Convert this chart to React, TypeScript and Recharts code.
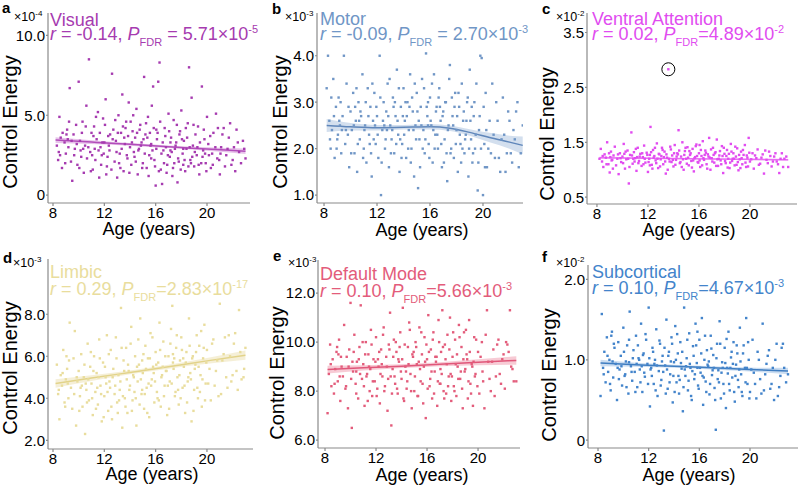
import React from 'react';
import { ComposedChart, Scatter, Line, Area, XAxis, YAxis, ReferenceDot } from 'recharts';

// age ticks shared by all panels
const ageTicks = [8, 12, 16, 20];

// a - Visual (x10^-4)
const visualPoints = [
  [8.3,3.1],[8.4,2.2],[8.5,4.9],[8.6,3.6],[8.7,1.7],[8.9,3.3],[9.0,2.6],[9.1,4.1],[9.2,3.0],[9.3,6.7],[9.4,2.1],[9.5,0.9],[9.6,3.8],[9.7,2.9],[9.8,4.4],[9.9,1.9],[10.0,7.1],[10.1,3.4],[10.2,2.4],[10.3,4.6],[10.4,1.4],[10.5,3.1],[10.6,5.6],[10.8,8.5],[10.9,2.7],[11.0,3.9],[11.1,1.6],[11.2,4.3],[11.3,2.2],[11.4,3.5],[11.5,5.2],[11.6,1.1],[11.7,3.0],[11.8,2.5],[11.9,4.8],[12.0,3.3],[12.1,6.0],[12.2,1.8],[12.3,3.7],[12.4,2.8],[12.6,7.6],[12.7,4.1],[12.8,2.1],[12.9,3.4],[13.0,1.1],[13.1,5.0],[13.2,2.6],[13.3,3.9],[13.4,6.3],[13.5,1.5],[13.6,3.2],[13.7,4.6],[13.8,2.3],[13.9,5.8],[14.0,3.0],[14.1,1.9],[14.2,4.0],[14.3,2.7],[14.4,3.6],[14.5,5.4],[14.6,1.3],[14.7,2.9],[14.8,4.4],[14.9,3.3],[15.0,2.0],[15.1,7.4],[15.2,3.8],[15.3,1.7],[15.4,4.9],[15.5,2.5],[15.6,3.1],[15.7,5.6],[15.8,6.8],[15.9,2.2],[16.0,0.6],[16.1,3.5],[16.2,7.1],[16.3,8.3],[16.4,1.6],[16.5,0.7],[16.6,2.8],[16.7,4.2],[16.8,3.0],[16.9,1.9],[17.0,5.1],[17.1,2.4],[17.2,3.6],[17.3,1.2],[17.4,4.7],[17.5,2.9],[17.6,3.3],[17.7,0.8],[17.8,2.1],[17.9,4.0],[18.0,5.3],[18.1,2.6],[18.2,3.4],[18.3,1.5],[18.4,2.9],[18.5,4.5],[18.6,8.0],[18.7,2.2],[18.8,6.1],[18.9,3.1],[19.0,1.8],[19.1,3.8],[19.2,2.5],[19.3,4.3],[19.4,1.3],[19.6,6.8],[19.7,2.8],[19.8,3.5],[19.9,2.0],[20.0,4.9],[20.1,3.2],[20.3,1.7],[20.4,2.6],[20.5,3.9],[20.7,5.1],[20.8,2.3],[21.0,1.3],[21.1,3.0],[21.3,4.2],[21.5,2.5],[21.7,3.6],[21.9,1.9],[22.1,3.0],[22.3,4.1],[22.5,2.7],[22.8,3.4],[23.0,2.3],
  [11.25,2.9],[12.45,3.8],[13.15,2.0],[13.65,4.2],[14.35,2.4],[14.85,3.1],[15.35,3.6],[15.65,2.3],[16.15,3.9],[16.45,2.6],[16.85,1.4],[17.15,3.3],[17.45,2.0],[17.85,3.8],[18.15,1.9],[18.45,3.6],[18.85,2.4],[19.25,3.0],[19.55,2.0],[10.65,2.3],[9.45,3.4],[12.15,1.3],[14.05,4.6],[15.95,1.8],[17.65,4.4],
  [8.45,2.7],[8.75,3.9],[8.95,2.0],[9.15,3.5],[9.25,4.6],[9.65,2.5],[9.85,3.2],[10.05,1.7],[10.25,3.9],[10.35,2.9],[10.55,4.3],[10.75,3.0],[10.95,1.5],[11.05,2.5],[11.15,3.7],[11.35,4.9],[11.55,2.8],[11.65,3.9],[11.75,1.9],[11.95,2.6],[12.05,4.4],[12.25,2.4],[12.35,3.1],[12.55,1.6],[12.65,3.5],[12.85,4.7],[12.95,2.7],[13.05,3.9],[13.25,1.7],[13.35,2.9],[13.45,4.3],[13.55,3.6],[13.75,2.5],[13.95,1.4],[14.15,3.3],[14.25,5.0],[14.45,2.1],[14.55,3.9],[14.65,2.8],[14.75,4.1],[14.95,1.7],[15.05,3.5],[15.15,2.6],[15.25,4.5],[15.45,1.2],[15.55,3.9],[15.75,2.8],[15.85,4.2],[16.05,2.9],[16.25,1.5],[16.35,4.6],[16.55,3.3],[16.65,2.0],[16.75,3.7],[16.95,2.5],[17.05,4.0],[17.25,2.7],[17.35,1.7],[17.55,3.1],[17.75,2.3],[17.95,1.6],[18.05,3.5],[18.25,2.2],[18.35,4.2],[18.55,1.8],[18.65,3.0],[18.75,2.0],[18.95,4.4],[19.05,2.7],[19.35,1.9],[19.45,3.3],[19.65,2.4],[19.75,4.1],[19.95,1.5],[20.15,2.5],[20.25,3.7],[20.45,1.9],[20.65,3.0],[20.95,2.2],[21.2,3.8],[21.4,1.8],[21.6,2.9],[21.8,4.5],[22.0,2.2],[22.2,1.5],[22.4,3.3],[22.65,2.0],[22.9,2.9],[21.05,2.6],[20.85,4.2],[9.05,3.8],[8.55,2.5],[10.15,2.8],[11.85,3.3],[13.85,3.7],[15.65,3.2],[16.05,4.1],[17.15,2.8],[18.15,2.9],[19.85,2.6],
];
// [age, fit, lower, upper]
const visualFit = [[8.2,3.45,3.27,3.63],[11,3.32,3.2,3.44],[14,3.18,3.1,3.26],[17,3.03,2.95,3.11],[20,2.89,2.78,3.0],[23,2.75,2.58,2.92]];

// b - Motor (x10^-3)
const motorPoints = [
  [8.2,3.3],[8.3,4.0],[8.4,2.6],[8.5,2.0],[8.6,2.4],[8.7,3.5],[8.8,1.8],[8.9,2.9],[9.0,2.2],[9.1,3.1],[9.2,2.5],[9.3,1.9],[9.4,2.7],[9.5,4.0],[9.6,2.1],[9.7,3.4],[9.8,2.3],[9.9,1.6],[10.0,2.8],[10.1,2.4],[10.2,3.2],[10.3,1.9],[10.4,2.6],[10.5,1.5],[10.6,3.0],[10.7,2.2],[10.8,2.7],[10.9,3.6],[11.0,2.0],[11.1,2.5],[11.2,1.7],[11.3,3.3],[11.4,2.3],[11.5,2.9],[11.6,1.4],[11.7,2.6],[11.8,3.2],[11.9,2.1],[12.0,2.7],[12.1,1.8],[12.2,4.0],[12.3,1.0],[12.4,2.4],[12.5,3.0],[12.6,2.0],[12.7,2.8],[12.8,3.4],[12.9,1.6],[13.0,2.5],[13.1,2.2],[13.2,3.1],[13.3,1.9],[13.4,2.7],[13.5,3.7],[13.6,2.3],[13.7,1.5],[13.8,2.9],[13.9,2.1],[14.0,3.3],[14.1,2.6],[14.2,1.8],[14.3,3.0],[14.4,2.4],[14.5,3.6],[14.6,2.0],[14.7,2.8],[14.8,1.4],[14.9,2.5],[15.0,3.2],[15.1,1.15],[15.2,2.2],[15.3,2.9],[15.4,3.5],[15.5,2.4],[15.6,1.9],[15.7,4.05],[15.8,2.7],[15.9,2.1],[16.0,3.1],[16.1,2.5],[16.2,1.7],[16.3,3.6],[16.4,2.3],[16.5,2.9],[16.6,2.0],[16.7,3.3],[16.8,2.6],[16.9,1.6],[17.0,2.8],[17.1,2.2],[17.2,3.0],[17.3,1.3],[17.4,2.5],[17.5,3.8],[17.6,2.0],[17.7,2.7],[17.8,1.8],[17.9,3.2],[18.0,2.4],[18.1,1.5],[18.2,2.9],[18.3,2.1],[18.4,3.4],[18.5,2.6],[18.6,1.9],[18.7,2.3],[18.8,3.0],[18.9,1.4],[19.0,3.7],[19.1,2.2],[19.2,1.7],[19.3,2.7],[19.4,2.0],[19.5,3.4],[19.6,1.1],[19.7,2.4],[19.8,4.0],[19.9,3.95],[20.0,1.0],[20.1,2.1],[20.2,3.2],[20.3,1.6],[20.5,2.6],[20.6,1.9],[20.8,2.3],[21.0,3.0],[21.2,1.8],[21.4,2.2],[21.5,3.1],[21.7,1.5],[21.9,2.8],[22.1,1.9],[22.3,2.4],[22.5,2.8],[22.7,1.6],[23.0,2.5],
  [10.35,2.9],[11.45,2.1],[12.55,2.5],[13.25,2.9],[13.75,2.2],[14.25,2.7],[14.65,3.1],[15.15,2.6],[15.45,2.0],[15.85,3.0],[16.25,2.4],[16.75,2.9],[17.25,1.9],[17.65,3.1],[18.05,2.7],[18.45,2.0],[18.75,2.6],[19.15,2.9],[9.35,2.4],[11.85,2.5],
  [8.45,2.2],[8.75,2.7],[8.95,2.0],[9.15,2.6],[9.25,3.0],[9.65,2.4],[9.85,2.9],[10.05,1.9],[10.25,2.5],[10.45,3.3],[10.55,2.1],[10.75,2.8],[10.95,1.8],[11.05,2.4],[11.15,3.0],[11.35,2.7],[11.55,1.9],[11.65,3.4],[11.75,2.2],[11.95,2.9],[12.05,2.3],[12.25,3.1],[12.35,1.7],[12.45,2.6],[12.65,2.2],[12.85,2.7],[12.95,3.5],[13.05,1.9],[13.15,2.4],[13.35,3.0],[13.45,2.1],[13.55,2.6],[13.65,3.3],[13.85,1.8],[13.95,2.7],[14.05,2.3],[14.15,3.0],[14.35,2.0],[14.45,2.9],[14.55,1.7],[14.75,2.4],[14.85,3.4],[14.95,2.2],[15.05,2.8],[15.25,1.6],[15.35,2.5],[15.55,3.3],[15.65,2.2],[15.75,2.9],[15.95,1.8],[16.05,2.6],[16.15,3.4],[16.35,2.0],[16.45,2.8],[16.55,2.3],[16.65,3.1],[16.85,2.1],[16.95,2.7],[17.05,1.7],[17.15,3.0],[17.35,2.4],[17.45,3.5],[17.55,1.9],[17.75,2.5],[17.85,2.9],[17.95,2.1],[18.15,3.2],[18.25,2.3],[18.35,1.7],[18.55,2.8],[18.65,2.2],[18.85,3.1],[18.95,2.0],[19.05,2.6],[19.25,1.9],[19.35,3.0],[19.45,2.3],[19.65,1.7],[19.75,2.7],[19.85,2.0],[20.05,2.9],[20.15,1.6],[20.25,2.4],[20.4,2.0],[20.7,3.4],[20.9,1.8],[21.1,2.6],[21.3,1.5],[21.6,2.3],[21.8,1.9],[22.0,2.6],[22.2,1.7],[22.4,2.2],[22.6,3.0],[22.85,1.9],[9.05,2.3],[10.65,2.6],[8.55,3.1],[12.75,2.4],[15.85,2.5],
];
const motorFit = [[8.2,2.5,2.36,2.64],[10,2.47,2.39,2.55],[12,2.45,2.39,2.51],[14,2.46,2.41,2.51],[16,2.47,2.41,2.53],[17.5,2.44,2.38,2.5],[19,2.35,2.28,2.42],[20.5,2.24,2.14,2.34],[22,2.14,2.0,2.28],[23,2.07,1.88,2.26]];

// c - Ventral Attention (x10^-2)
const ventralPoints = [
  [8.2,1.2],[8.3,1.38],[8.4,1.15],[8.5,1.05],[8.6,1.28],[8.7,1.22],[8.8,1.5],[8.9,1.1],[9.0,0.95],[9.1,1.33],[9.2,1.18],[9.3,1.26],[9.4,1.42],[9.5,1.08],[9.6,1.2],[9.7,0.92],[9.8,1.3],[9.9,1.14],[10.0,1.24],[10.1,1.47],[10.2,1.02],[10.3,1.19],[10.4,1.35],[10.5,0.75],[10.6,1.27],[10.7,1.68],[10.8,1.11],[10.9,1.32],[11.0,1.21],[11.1,0.98],[11.2,1.4],[11.3,1.16],[11.4,1.29],[11.5,1.07],[11.6,1.23],[11.7,1.44],[11.8,1.13],[11.9,1.31],[12.0,0.96],[12.1,1.2],[12.2,1.78],[12.3,1.09],[12.4,1.36],[12.5,1.25],[12.6,1.17],[12.7,1.48],[12.8,1.03],[12.9,1.28],[13.0,1.19],[13.1,1.4],[13.2,1.1],[13.3,1.33],[13.4,0.93],[13.5,1.22],[13.6,2.83],[13.7,1.15],[13.8,1.37],[13.9,1.26],[14.0,1.06],[14.1,1.45],[14.2,1.18],[14.3,1.3],[14.4,1.72],[14.5,1.12],[14.6,1.24],[14.7,1.5],[14.8,1.0],[14.9,1.34],[15.0,1.2],[15.1,1.41],[15.2,1.08],[15.3,1.27],[15.4,1.16],[15.5,1.38],[15.6,0.97],[15.7,1.23],[15.8,1.46],[15.9,1.14],[16.0,1.3],[16.1,1.05],[16.2,1.25],[16.3,1.52],[16.4,1.18],[16.5,1.35],[16.6,1.1],[16.7,1.28],[16.8,1.58],[16.9,1.0],[17.0,1.21],[17.1,1.4],[17.2,1.13],[17.3,1.32],[17.4,1.55],[17.5,1.07],[17.6,1.26],[17.7,1.17],[17.8,1.43],[17.9,0.94],[18.0,1.29],[18.1,1.12],[18.2,1.36],[18.3,1.2],[18.4,1.03],[18.5,1.47],[18.6,1.16],[18.7,1.3],[18.8,1.08],[18.9,1.24],[19.0,1.39],[19.1,0.99],[19.2,1.19],[19.3,1.33],[19.4,1.1],[19.5,1.27],[19.6,1.45],[19.7,1.05],[19.8,1.22],[19.9,1.58],[20.0,1.15],[20.2,1.3],[20.3,1.02],[20.5,1.21],[20.6,1.37],[20.8,1.11],[21.0,1.28],[21.1,0.93],[21.3,1.18],[21.5,1.33],[21.7,1.06],[21.9,1.24],[22.1,1.15],[22.3,0.94],[22.5,1.3],[22.7,1.2],[23.0,1.05],
  [12.15,1.27],[12.75,1.2],[13.25,1.23],[13.85,1.14],[14.35,1.28],[14.75,1.19],[15.25,1.34],[15.65,1.21],[16.05,1.17],[16.45,1.27],[16.85,1.22],[17.25,1.3],[17.55,1.2],[18.15,1.25],[18.65,1.2],[19.05,1.14],[11.35,1.24],[10.85,1.2],
  [8.45,1.25],[8.75,1.1],[8.95,1.3],[9.15,1.17],[9.25,1.02],[9.65,1.28],[9.85,1.21],[10.05,1.12],[10.25,1.33],[10.45,1.2],[10.55,1.05],[10.75,1.26],[10.95,1.15],[11.05,1.38],[11.15,1.23],[11.55,1.3],[11.65,1.1],[11.75,1.2],[11.95,1.27],[12.05,1.14],[12.25,1.32],[12.35,1.02],[12.45,1.22],[12.55,1.4],[12.65,1.12],[12.85,1.29],[12.95,1.06],[13.05,1.25],[13.15,1.36],[13.35,1.15],[13.45,1.28],[13.55,1.0],[13.65,1.2],[13.75,1.42],[13.95,1.18],[14.05,1.3],[14.15,1.09],[14.25,1.24],[14.45,1.35],[14.55,1.14],[14.65,1.05],[14.85,1.27],[14.95,1.4],[15.05,1.11],[15.15,1.22],[15.35,1.3],[15.45,1.04],[15.55,1.17],[15.75,1.43],[15.85,1.25],[15.95,1.13],[16.15,1.36],[16.25,1.08],[16.35,1.21],[16.55,1.31],[16.65,1.02],[16.75,1.24],[16.95,1.37],[17.05,1.15],[17.15,1.27],[17.35,1.07],[17.45,1.19],[17.65,1.34],[17.75,1.1],[17.85,1.25],[17.95,1.4],[18.05,1.16],[18.25,1.04],[18.35,1.29],[18.45,1.13],[18.55,1.33],[18.75,1.2],[18.85,1.42],[18.95,1.09],[19.15,1.27],[19.25,1.03],[19.35,1.21],[19.45,1.36],[19.65,1.13],[19.75,1.26],[19.85,1.06],[19.95,1.31],[20.1,1.19],[20.4,1.26],[20.7,1.09],[20.9,1.22],[21.2,1.35],[21.4,1.12],[21.6,1.25],[21.8,1.15],[22.0,1.3],[22.2,1.1],[22.4,1.2],[22.6,1.05],[22.85,1.24],[9.05,1.23],[10.15,1.29],[11.25,1.12],[12.15,1.08],[16.05,1.45],
];
const ventralFit = [[8.2,1.22,1.2,1.24],[15.5,1.2,1.19,1.21],[23,1.18,1.16,1.2]];
const ventralOutlier = [13.6, 2.83];

// d - Limbic (x10^-3)
const limbicPoints = [
  [8.3,5.6],[8.4,4.2],[8.5,3.0],[8.6,5.1],[8.7,4.6],[8.8,6.3],[8.9,3.8],[9.0,4.9],[9.1,5.4],[9.2,4.0],[9.3,7.6],[9.4,4.5],[9.5,3.5],[9.6,5.9],[9.7,7.2],[9.8,2.7],[9.9,4.8],[10.0,5.3],[10.1,4.1],[10.2,6.1],[10.3,3.6],[10.4,5.0],[10.5,2.3],[10.6,4.4],[10.7,6.6],[10.8,3.9],[10.9,5.5],[11.0,4.7],[11.1,3.2],[11.2,6.0],[11.3,4.3],[11.4,5.2],[11.5,3.7],[11.6,6.8],[11.7,4.6],[11.8,2.9],[11.9,5.7],[12.0,4.1],[12.1,5.0],[12.2,7.0],[12.3,3.4],[12.4,4.8],[12.5,6.3],[12.6,3.0],[12.7,5.4],[12.8,4.2],[12.9,6.9],[13.0,3.8],[13.1,5.1],[13.2,4.4],[13.3,8.3],[13.4,2.6],[13.5,5.8],[13.6,4.0],[13.7,6.4],[13.8,3.3],[13.9,5.3],[14.0,4.6],[14.1,7.4],[14.2,3.9],[14.3,5.0],[14.4,6.0],[14.5,2.7],[14.6,4.8],[14.7,5.6],[14.8,7.8],[14.9,4.2],[15.0,5.2],[15.1,3.5],[15.2,6.5],[15.3,4.5],[15.4,5.9],[15.5,3.1],[15.6,7.1],[15.7,4.9],[15.8,5.5],[15.9,3.8],[16.0,6.2],[16.1,4.3],[16.2,5.7],[16.3,7.6],[16.4,3.6],[16.5,5.1],[16.6,6.7],[16.7,4.6],[16.8,5.3],[16.9,3.2],[17.0,6.0],[17.1,4.8],[17.2,7.3],[17.3,8.4],[17.4,5.4],[17.5,4.1],[17.6,6.4],[17.7,5.0],[17.8,3.7],[17.9,5.8],[18.0,6.9],[18.1,4.5],[18.2,5.5],[18.3,3.3],[18.4,6.2],[18.5,4.8],[18.6,7.8],[18.7,5.2],[18.8,2.9],[18.9,6.0],[19.0,4.4],[19.1,5.6],[19.2,7.0],[19.3,4.0],[19.4,6.5],[19.5,5.1],[19.6,3.6],[19.7,5.9],[19.8,7.5],[19.9,4.7],[20.0,6.3],[20.2,5.4],[20.3,3.9],[20.5,6.8],[20.6,4.6],[20.8,5.8],[21.0,8.5],[21.1,4.2],[21.3,6.1],[21.5,5.0],[21.7,7.0],[21.9,4.8],[22.1,6.6],[22.3,5.3],[22.5,8.2],[22.7,4.9],[22.9,5.4],[23.0,6.4],
  [12.45,4.5],[13.15,3.9],[13.75,4.9],[14.35,4.3],[14.95,5.8],[15.45,4.7],[15.85,5.2],[16.15,4.0],[16.55,5.5],[16.95,4.6],[17.35,5.7],[17.75,4.4],[18.15,5.9],[18.55,5.0],[19.05,5.4],[19.45,4.3],[11.55,5.0],[10.55,4.7],
  [8.45,4.4],[8.75,5.2],[8.95,3.6],[9.15,4.7],[9.25,5.8],[9.65,4.2],[9.85,5.0],[10.05,3.4],[10.25,4.6],[10.45,5.6],[10.65,3.8],[10.75,4.9],[10.95,6.2],[11.05,4.0],[11.15,5.3],[11.35,3.5],[11.45,4.5],[11.65,5.9],[11.75,4.2],[11.95,3.1],[12.05,5.5],[12.25,4.3],[12.35,6.1],[12.55,3.6],[12.65,5.0],[12.85,4.6],[12.95,5.9],[13.05,3.3],[13.25,4.8],[13.35,6.4],[13.45,4.1],[13.55,5.3],[13.65,3.6],[13.85,5.6],[13.95,4.4],[14.05,6.6],[14.15,3.4],[14.25,5.1],[14.45,4.0],[14.55,5.5],[14.65,6.8],[14.75,3.7],[14.85,4.9],[15.05,6.1],[15.15,4.2],[15.25,5.4],[15.35,3.3],[15.55,5.9],[15.65,4.6],[15.75,6.9],[15.95,4.8],[16.05,5.6],[16.25,3.9],[16.35,6.3],[16.45,5.0],[16.65,4.1],[16.75,6.0],[16.85,5.3],[17.05,3.5],[17.15,6.6],[17.25,4.7],[17.45,5.9],[17.55,4.3],[17.65,7.0],[17.85,5.1],[17.95,4.0],[18.05,6.3],[18.25,4.6],[18.35,5.7],[18.45,3.8],[18.65,6.5],[18.75,4.9],[18.85,5.9],[18.95,3.4],[19.15,6.2],[19.25,4.5],[19.35,5.5],[19.55,7.2],[19.65,4.9],[19.75,6.4],[19.85,3.9],[19.95,5.7],[20.1,4.7],[20.4,6.6],[20.7,5.3],[20.9,4.1],[21.2,5.8],[21.4,6.9],[21.6,4.5],[21.8,6.0],[22.0,5.1],[22.2,7.1],[22.4,4.4],[22.6,6.2],[22.85,5.0],[9.05,6.0],[10.15,4.5],[12.15,4.7],[14.95,4.4],[17.35,6.1],
];
const limbicFit = [[8.2,4.7,4.5,4.9],[11,4.96,4.82,5.1],[14,5.23,5.14,5.32],[17,5.5,5.41,5.59],[20,5.78,5.64,5.92],[23,6.05,5.83,6.27]];

// e - Default Mode (x10^-3)
const defaultPoints = [
  [8.2,7.1],[8.3,8.7],[8.4,9.9],[8.5,8.2],[8.6,9.3],[8.7,7.9],[8.8,8.9],[8.9,9.6],[9.0,8.4],[9.1,10.1],[9.2,7.6],[9.3,9.0],[9.4,8.6],[9.5,10.7],[9.6,8.1],[9.7,9.4],[9.8,7.3],[9.9,9.7],[10.0,11.6],[10.1,6.5],[10.2,8.8],[10.3,10.3],[10.4,8.3],[10.5,9.2],[10.6,7.7],[10.7,9.8],[10.8,11.5],[10.9,8.5],[11.0,9.1],[11.1,7.4],[11.2,10.0],[11.3,8.7],[11.4,9.5],[11.5,8.0],[11.6,10.5],[11.7,7.8],[11.8,9.3],[11.9,8.4],[12.0,10.2],[12.1,8.1],[12.2,9.0],[12.3,7.5],[12.4,9.7],[12.5,8.6],[12.6,10.6],[12.7,8.2],[12.8,9.4],[12.9,7.2],[13.0,9.9],[13.1,11.2],[13.2,6.6],[13.3,8.9],[13.4,10.1],[13.5,8.3],[13.6,9.6],[13.7,7.9],[13.8,9.2],[13.9,10.4],[14.0,8.5],[14.1,11.4],[14.2,7.6],[14.3,9.0],[14.4,8.1],[14.5,9.8],[14.6,10.8],[14.7,8.7],[14.8,7.3],[14.9,9.4],[15.0,8.0],[15.1,10.0],[15.2,9.1],[15.3,7.8],[15.4,10.6],[15.5,8.4],[15.6,9.5],[15.7,7.5],[15.8,10.2],[15.9,6.9],[16.0,9.3],[16.1,11.1],[16.2,8.2],[16.3,9.7],[16.4,7.7],[16.5,10.4],[16.6,8.8],[16.7,9.2],[16.8,7.4],[16.9,10.9],[17.0,8.3],[17.1,9.6],[17.2,11.3],[17.3,8.0],[17.4,9.9],[17.5,7.9],[17.6,10.3],[17.7,8.6],[17.8,11.0],[17.9,7.6],[18.0,9.4],[18.1,8.2],[18.2,10.1],[18.3,7.8],[18.4,9.0],[18.5,10.7],[18.6,8.5],[18.7,9.8],[18.8,7.3],[18.9,10.4],[19.0,8.9],[19.1,9.5],[19.2,7.7],[19.3,10.9],[19.4,8.3],[19.5,9.1],[19.6,7.4],[19.7,10.2],[19.8,8.7],[20.0,9.6],[20.1,7.9],[20.3,10.0],[20.4,8.4],[20.5,7.3],[20.7,11.3],[20.8,9.2],[21.0,8.0],[21.2,9.7],[21.4,8.6],[21.6,10.1],[21.8,8.3],[22.0,9.5],[22.3,9.9],[22.5,11.3],[22.6,9.0],[22.8,8.4],[23.0,8.4],
  [12.45,9.1],[13.15,8.6],[13.75,9.3],[14.35,8.8],[14.95,9.6],[15.45,8.9],[15.85,9.2],[16.25,8.5],[16.65,9.4],[17.05,8.9],[17.45,9.3],[17.85,8.7],[18.25,9.1],[18.65,8.8],[19.15,9.3],[11.45,9.0],[10.45,8.8],[19.55,9.0],
  [8.45,9.1],[8.75,8.3],[8.95,9.8],[9.15,8.6],[9.25,9.4],[9.65,8.2],[9.85,9.0],[10.05,8.5],[10.25,9.6],[10.45,7.9],[10.65,9.3],[10.75,8.7],[10.95,10.0],[11.05,8.2],[11.15,9.5],[11.35,7.6],[11.55,8.9],[11.65,9.9],[11.75,8.4],[11.95,9.2],[12.05,7.8],[12.25,9.6],[12.35,8.7],[12.55,10.3],[12.65,8.0],[12.85,9.0],[12.95,8.5],[13.05,9.7],[13.25,7.9],[13.35,9.4],[13.45,8.6],[13.55,10.0],[13.65,8.1],[13.85,9.8],[13.95,8.8],[14.05,9.3],[14.15,7.7],[14.25,9.9],[14.45,8.4],[14.55,9.1],[14.65,10.5],[14.75,8.0],[14.85,9.5],[15.05,8.6],[15.15,9.8],[15.25,7.8],[15.35,9.2],[15.55,10.4],[15.65,8.3],[15.75,9.0],[15.95,9.9],[16.05,8.1],[16.15,9.6],[16.35,8.8],[16.45,10.1],[16.55,7.9],[16.75,9.4],[16.85,8.4],[16.95,10.0],[17.15,8.7],[17.25,9.8],[17.35,7.7],[17.55,9.1],[17.65,8.2],[17.75,9.7],[17.95,8.6],[18.05,10.4],[18.15,8.0],[18.35,9.5],[18.45,8.5],[18.55,10.2],[18.75,8.1],[18.85,9.3],[18.95,8.8],[19.05,10.5],[19.25,8.4],[19.35,9.6],[19.45,7.9],[19.65,9.2],[19.75,8.6],[19.85,10.1],[19.95,8.2],[20.2,9.4],[20.35,8.8],[20.6,10.3],[20.9,8.5],[21.1,9.2],[21.3,7.8],[21.5,9.9],[21.7,8.7],[21.9,9.3],[22.1,8.1],[22.2,10.0],[22.4,9.6],[22.7,8.9],[9.05,9.5],[10.15,9.2],[11.25,8.6],[12.15,9.3],[17.05,8.3],
];
const defaultFit = [[8.2,8.88,8.72,9.04],[11,8.95,8.84,9.06],[14,9.02,8.94,9.1],[17,9.1,9.02,9.18],[20,9.18,9.06,9.3],[23,9.25,9.08,9.42]];

// f - Subcortical (x10^-2)
const subcorticalPoints = [
  [8.2,0.55],[8.3,1.57],[8.4,0.9],[8.5,1.1],[8.6,0.72],[8.7,1.28],[8.8,0.85],[8.9,1.0],[9.0,0.62],[9.1,1.35],[9.2,0.78],[9.3,1.15],[9.4,0.95],[9.5,0.5],[9.6,1.22],[9.7,0.88],[9.8,1.05],[9.9,0.68],[10.0,1.4],[10.1,0.8],[10.2,0.98],[10.3,1.18],[10.4,0.58],[10.5,1.6],[10.6,0.92],[10.7,0.74],[10.8,1.12],[10.9,0.85],[11.0,1.3],[11.1,0.66],[11.2,1.02],[11.3,0.88],[11.4,1.45],[11.5,0.6],[11.6,1.08],[11.7,0.79],[11.8,1.25],[11.9,0.95],[12.0,1.65],[12.1,0.42],[12.2,0.9],[12.3,1.15],[12.4,0.7],[12.5,1.0],[12.6,1.38],[12.7,0.55],[12.8,0.86],[12.9,1.2],[13.0,0.75],[13.1,1.05],[13.2,0.12],[13.3,0.93],[13.4,1.5],[13.5,0.64],[13.6,1.1],[13.7,0.82],[13.8,1.28],[13.9,0.47],[14.0,0.97],[14.1,1.42],[14.2,0.72],[14.3,1.08],[14.4,0.58],[14.5,1.22],[14.6,0.89],[14.7,0.36],[14.8,1.65],[14.9,0.8],[15.0,1.02],[15.1,0.62],[15.2,1.33],[15.3,0.9],[15.4,0.5],[15.5,1.17],[15.6,0.76],[15.7,1.45],[15.8,0.96],[15.9,0.68],[16.0,1.25],[16.1,0.84],[16.2,1.52],[16.3,0.44],[16.4,1.0],[16.5,0.73],[16.6,1.12],[16.7,0.92],[16.8,0.57],[16.9,1.3],[17.0,0.81],[17.1,1.06],[17.2,0.65],[17.3,0.13],[17.4,1.2],[17.5,0.87],[17.6,1.48],[17.7,0.52],[17.8,0.97],[17.9,0.7],[18.0,1.15],[18.1,0.4],[18.2,0.9],[18.3,1.35],[18.4,0.62],[18.5,1.03],[18.6,0.78],[18.7,1.22],[18.8,0.48],[18.9,0.94],[19.0,1.08],[19.1,0.66],[19.2,1.4],[19.3,0.82],[19.4,0.55],[19.5,1.18],[19.6,0.9],[19.7,1.52],[19.8,0.7],[19.9,1.0],[20.0,0.6],[20.2,1.25],[20.3,0.84],[20.5,0.52],[20.6,1.1],[20.8,0.76],[21.0,1.45],[21.1,0.62],[21.3,0.95],[21.5,1.12],[21.7,0.7],[21.9,0.5],[22.1,1.2],[22.3,0.66],[22.5,1.15],[22.7,0.9],[23.0,0.82],
  [12.45,0.95],[13.15,0.85],[13.75,0.98],[14.35,0.8],[14.95,0.92],[15.45,0.86],[15.85,0.9],[16.25,0.8],[16.65,0.94],[17.05,0.87],[17.45,0.76],[17.85,0.9],[18.25,0.83],[18.65,0.95],[19.15,0.88],[11.45,0.92],[10.45,0.97],[9.55,0.9],
  [8.45,0.82],[8.75,1.05],[8.95,0.7],[9.15,0.98],[9.25,1.2],[9.65,0.76],[9.85,0.92],[10.05,1.1],[10.25,0.66],[10.45,1.25],[10.65,0.85],[10.75,1.02],[10.95,0.6],[11.05,0.95],[11.15,1.18],[11.35,0.72],[11.55,1.06],[11.65,0.84],[11.75,1.32],[11.95,0.7],[12.05,1.02],[12.25,0.8],[12.35,1.1],[12.55,0.62],[12.65,0.93],[12.85,1.24],[12.95,0.68],[13.05,0.98],[13.25,1.15],[13.35,0.58],[13.45,0.88],[13.55,1.05],[13.65,0.72],[13.85,1.2],[13.95,0.8],[14.05,0.6],[14.15,1.0],[14.25,1.32],[14.45,0.75],[14.55,0.96],[14.65,1.1],[14.75,0.66],[14.85,0.88],[15.05,1.25],[15.15,0.74],[15.25,0.95],[15.35,0.55],[15.55,1.05],[15.65,0.82],[15.75,1.18],[15.95,0.64],[16.05,0.9],[16.15,1.08],[16.35,0.78],[16.45,1.3],[16.55,0.6],[16.75,0.98],[16.85,0.7],[16.95,1.14],[17.15,0.9],[17.25,0.5],[17.35,1.02],[17.55,0.72],[17.65,1.2],[17.75,0.84],[17.95,0.58],[18.05,0.96],[18.15,1.26],[18.35,0.7],[18.45,0.9],[18.55,1.1],[18.75,0.6],[18.85,0.8],[18.95,1.18],[19.05,0.75],[19.25,0.98],[19.35,0.6],[19.45,1.08],[19.65,0.72],[19.75,0.9],[19.85,1.22],[19.95,0.52],[20.1,0.88],[20.4,0.7],[20.7,1.0],[20.9,0.58],[21.2,0.82],[21.4,1.05],[21.6,0.64],[21.8,0.9],[22.0,1.0],[22.2,0.55],[22.4,0.8],[22.6,1.2],[22.85,0.72],[9.05,1.3],[10.15,0.82],[11.25,1.0],[12.15,0.88],[15.85,1.35],
];
const subcorticalFit = [[8.2,0.96,0.92,1.0],[11,0.94,0.915,0.965],[14,0.92,0.9,0.94],[17,0.9,0.88,0.92],[20,0.88,0.855,0.905],[23,0.86,0.82,0.9]];

const FONT = '"Liberation Sans", Arial, Helvetica, sans-serif';

const panels = [
  { key: 'a', title: 'Visual', r: '-0.14', p: ' = 5.71×10', exp: '-5', mult: '-4',
    points: visualPoints, fit: visualFit, color: '#A63BB0', line: '#B24DBA', band: '#D79BDC',
    plot: [48, 13, 250, 208], xDomain: [7.61, 23.35], yDomain: [-0.49, 11.4], yTicks: [0, 5, 10],
    letter: [2, 13], multAt: [14, 21], titleAt: [50, 26, 40], yLabel: [17, 122], xLabel: [149, 235] },
  { key: 'b', title: 'Motor', r: '-0.09', p: ' = 2.70×10', exp: '-3', mult: '-3',
    points: motorPoints, fit: motorFit, color: '#7096C6', line: '#5F86BA', band: '#B5C9E3',
    plot: [317, 13, 523, 208], xDomain: [7.47, 23.02], yDomain: [0.83, 4.92], yTicks: [1, 2, 3, 4],
    letter: [272, 14], multAt: [285, 21], titleAt: [320, 25, 40], yLabel: [287, 122], xLabel: [422, 236] },
  { key: 'c', title: 'Ventral Attention', r: '0.02', p: '=4.89×10', exp: '-2', mult: '-2',
    points: ventralPoints, fit: ventralFit, color: '#E14CF0', line: '#E86EF2', band: '#F3B5F8',
    plot: [587, 13, 797, 209], xDomain: [7.22, 23.69], yDomain: [0.376, 3.855], yTicks: [0.5, 1.5, 2.5, 3.5],
    letter: [542, 14], multAt: [556, 21], titleAt: [592, 25, 40], yLabel: [554, 134], xLabel: [689, 236] },
  { key: 'd', title: 'Limbic', r: '0.29', p: '=2.83×10', exp: '-17', mult: '-3',
    points: limbicPoints, fit: limbicFit, color: '#E9DD9D', line: '#E2D38A', band: '#EFE5BC',
    plot: [48, 259, 253, 454], xDomain: [7.61, 23.59], yDomain: [1.585, 10.63], yTicks: [2, 4, 6, 8],
    letter: [3, 263], multAt: [13, 267], titleAt: [50, 278, 295], yLabel: [17, 368], xLabel: [152, 480] },
  { key: 'e', title: 'Default Mode', r: '0.10', p: '=5.66×10', exp: '-3', mult: '-3',
    points: defaultPoints, fit: defaultFit, color: '#E35C7B', line: '#E0577A', band: '#F1A8B9',
    plot: [318, 260, 520, 453], xDomain: [7.45, 23.29], yDomain: [5.68, 13.35], yTicks: [6, 8, 10, 12],
    letter: [273, 261], multAt: [288, 267], titleAt: [320, 280, 297], yLabel: [284, 373], xLabel: [422, 481] },
  { key: 'f', title: 'Subcortical', r: '0.10', p: '=4.67×10', exp: '-3', mult: '-2',
    points: subcorticalPoints, fit: subcorticalFit, color: '#4384CB', line: '#3F7DC0', band: '#A8C6E8',
    plot: [588, 265, 798, 453], xDomain: [7.21, 23.79], yDomain: [-0.097, 2.18], yTicks: [0, 1, 2],
    letter: [542, 262], multAt: [556, 267], titleAt: [592, 278, 294], yLabel: [556, 375], xLabel: [689, 481] },
];

const fmtY = (v: number) => (v === 0 ? '0' : v.toFixed(1));

const Dot = (props: any) => {
  const { cx, cy, fill } = props;
  if (cx == null || cy == null) return null;
  return <rect x={cx - 1.2} y={cy - 1.2} width={2.4} height={2.4} fill={fill} />;
};

function Panel({ cfg }: { cfg: any }) {
  const [pl, pt, pr, pb] = cfg.plot;
  const pts = cfg.points.map(([x, y]: number[]) => ({ x, y }));
  const fit = cfg.fit.map(([x, f, lo, hi]: number[]) => ({ x, fit: f, band: [lo, hi] }));
  const axisStyle = { stroke: '#8a8a8a', strokeWidth: 1.2 };
  const tickStyle = { fill: '#000', fontSize: 15, fontFamily: FONT };
  return (
    <div style={{ position: 'absolute', left: pl - 40, top: pt - 5 }}>
      <ComposedChart width={pr - pl + 45} height={pb - pt + 40} margin={{ top: 5, right: 5, left: 10, bottom: 5 }}>
        <XAxis type="number" dataKey="x" domain={cfg.xDomain} ticks={ageTicks} allowDataOverflow
          height={35} tickSize={3} tickMargin={1} axisLine={axisStyle} tickLine={axisStyle} tick={tickStyle} />
        <YAxis type="number" domain={cfg.yDomain} ticks={cfg.yTicks} allowDataOverflow width={30}
          tickSize={2} tickMargin={1} tickFormatter={fmtY} axisLine={axisStyle} tickLine={axisStyle} tick={tickStyle} />
        <Scatter data={pts} dataKey="y" fill={cfg.color} shape={<Dot />} isAnimationActive={false} />
        <Area data={fit} dataKey="band" type="monotone" stroke="none" fill={cfg.band} fillOpacity={0.6}
          activeDot={false} dot={false} isAnimationActive={false} />
        <Line data={fit} dataKey="fit" type="monotone" stroke={cfg.line} strokeWidth={1.5}
          dot={false} activeDot={false} isAnimationActive={false} />
        {cfg.key === 'c' && (
          <ReferenceDot x={ventralOutlier[0]} y={ventralOutlier[1]} r={6.5} fill="none" stroke="#000" strokeWidth={1} />
        )}
      </ComposedChart>
    </div>
  );
}

function Labels({ cfg }: { cfg: any }) {
  const [tx, ty1, ty2] = cfg.titleAt;
  return (
    <g fontFamily={FONT}>
      <text x={cfg.letter[0]} y={cfg.letter[1]} fontSize={15} fontWeight="bold" fill="#000">{cfg.key}</text>
      <text x={cfg.multAt[0]} y={cfg.multAt[1]} fontSize={12.5} fill="#000">
        ×10<tspan fontSize={8} dy={-5}>{cfg.mult}</tspan>
      </text>
      <text x={tx} y={ty1} fontSize={18} fill={cfg.color}>{cfg.title}</text>
      <text x={tx} y={ty2} fontSize={18} fill={cfg.color}>
        <tspan fontStyle="italic">r</tspan> = {cfg.r}, <tspan fontStyle="italic">P</tspan>
        <tspan fontSize={11} dy={6}>FDR</tspan>
        <tspan dy={-6}>{cfg.p}</tspan>
        <tspan fontSize={11} dy={-7}>{cfg.exp}</tspan>
      </text>
      <text transform={`translate(${cfg.yLabel[0]},${cfg.yLabel[1]}) rotate(-90)`} textAnchor="middle" fontSize={20} fill="#000">
        Control Energy
      </text>
      <text x={cfg.xLabel[0]} y={cfg.xLabel[1]} textAnchor="middle" fontSize={18} fill="#000">Age (years)</text>
    </g>
  );
}

export default function App() {
  return (
    <div style={{ position: 'absolute', left: 0, top: 0, width: 800, height: 492, background: '#fff', fontFamily: FONT }}>
      {panels.map((cfg) => <Panel key={cfg.key} cfg={cfg} />)}
      <svg width={800} height={492} style={{ position: 'absolute', left: 0, top: 0, pointerEvents: 'none' }}>
        {panels.map((cfg) => <Labels key={cfg.key} cfg={cfg} />)}
      </svg>
    </div>
  );
}
